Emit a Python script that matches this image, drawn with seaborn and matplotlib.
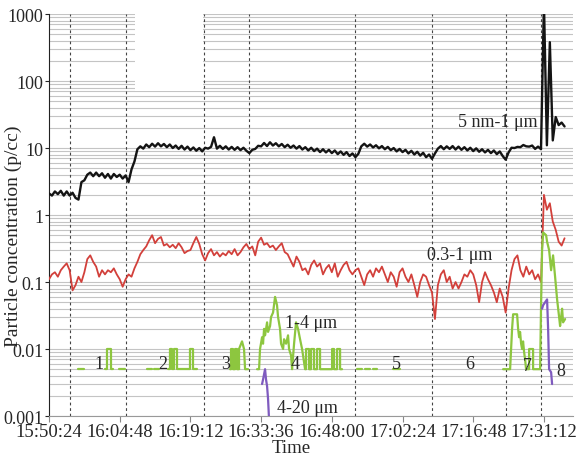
import numpy as np
import pandas as pd
import matplotlib
matplotlib.use("Agg")
import matplotlib.pyplot as plt
from matplotlib.patches import Rectangle
import seaborn as sns

# time axis: minutes after 15:50:24, instrument logs every 0.6 min
SAMPLE_MIN = 0.6
tick_min = [0, 14.4, 28.8, 43.2, 57.6, 72.0, 86.4, 100.8]
tick_labels = ["15:50:24", "16:04:48", "16:19:12", "16:33:36",
               "16:48:00", "17:02:24", "17:16:48", "17:31:12"]
y_ticks = [0.001, 0.01, 0.1, 1, 10, 100, 1000]
y_labels = ["0.001", "0.01", "0.1", "1", "10", "100", "1000"]

# segment boundaries (minutes) and segment numbers
boundaries = [4.28, 15.68, 31.57, 40.74, 62.33, 78.02, 93.09, 100.22]
seg_names = ["1", "2", "3", "4", "5", "6", "7", "8"]
seg_x = [10.19, 23.22, 36.05, 50.11, 70.68, 85.76, 97.37, 104.29]
seg_y = [0.006, 0.006, 0.006, 0.006, 0.006, 0.006, 0.0056, 0.0047]

# 5 nm-1 um (p/cc)
black_v = [
    2.1, 1.95, 2.25, 2.05, 2.3, 1.95, 2.25, 1.95, 2.15, 1.8,
    1.7, 3.1, 3.3, 4.0, 4.3, 3.8, 4.3, 3.8, 4.2, 3.6,
    4.1, 3.5, 4.1, 3.7, 4.0, 3.5, 3.9, 3.1, 4.8, 6.3,
    9.6, 10.6, 9.8, 11.3, 10.3, 11.6, 10.5, 11.8, 10.6, 11.5,
    10.3, 11.3, 10.0, 10.9, 9.7, 10.8, 9.5, 10.5, 9.3, 10.2,
    9.1, 10.0, 8.9, 10.1, 9.8, 10.4, 14.5, 9.8, 10.8, 9.7,
    10.6, 9.5, 10.4, 9.4, 10.3, 9.3, 10.1, 9.1, 8.4, 9.4,
    9.7, 10.8, 10.6, 11.9, 10.7, 12.2, 10.9, 11.8, 10.6, 11.5,
    10.3, 11.2, 10.1, 10.9, 9.8, 10.7, 9.5, 10.3, 9.2, 10.1,
    9.0, 9.8, 8.7, 9.6, 8.6, 9.4, 8.4, 9.2, 8.1, 8.9,
    7.9, 8.7, 7.6, 8.3, 7.3, 8.2, 10.6, 11.6, 10.5, 11.3,
    10.2, 11.0, 9.9, 10.7, 9.6, 10.4, 9.3, 10.0, 8.9, 9.7,
    8.7, 9.4, 8.3, 9.1, 8.0, 8.8, 7.7, 8.5, 7.3, 8.0,
    6.9, 8.3, 9.8, 10.7, 9.6, 10.6, 9.7, 10.7, 9.5, 10.5,
    9.4, 10.3, 9.2, 10.1, 9.0, 9.9, 8.8, 9.6, 8.6, 9.4,
    8.4, 9.2, 8.1, 8.9, 7.6, 6.7, 8.6, 10.1, 10.0, 10.4,
    10.3, 11.1, 10.6, 10.5, 10.9, 9.7, 10.5, 9.6, 1500, 11,
    380, 13, 29, 22, 24, 21]

# 0.3-1 um (p/cc)
red_v = [
    0.11, 0.13, 0.14, 0.12, 0.15, 0.17, 0.19, 0.15, 0.075, 0.09,
    0.12, 0.10, 0.14, 0.22, 0.25, 0.20, 0.17, 0.12, 0.15, 0.13,
    0.15, 0.14, 0.16, 0.13, 0.11, 0.085, 0.11, 0.13, 0.12, 0.16,
    0.20, 0.26, 0.30, 0.34, 0.42, 0.50, 0.38, 0.44, 0.47, 0.35,
    0.37, 0.33, 0.36, 0.32, 0.38, 0.33, 0.27, 0.29, 0.30, 0.38,
    0.47, 0.37, 0.26, 0.21, 0.27, 0.31, 0.25, 0.28, 0.24, 0.27,
    0.25, 0.29, 0.26, 0.31, 0.25, 0.28, 0.33, 0.37, 0.31, 0.34,
    0.25, 0.40, 0.46, 0.36, 0.38, 0.33, 0.35, 0.30, 0.34, 0.38,
    0.28, 0.26, 0.21, 0.17, 0.24, 0.20, 0.15, 0.16, 0.13, 0.18,
    0.21, 0.17, 0.19, 0.13, 0.16, 0.18, 0.14, 0.19, 0.12, 0.15,
    0.18, 0.20, 0.15, 0.13, 0.15, 0.16, 0.12, 0.09, 0.13, 0.15,
    0.12, 0.16, 0.14, 0.17, 0.13, 0.10, 0.14, 0.12, 0.085, 0.14,
    0.16, 0.12, 0.10, 0.13, 0.09, 0.06, 0.10, 0.13, 0.12, 0.09,
    0.07, 0.028, 0.09, 0.13, 0.15, 0.10, 0.12, 0.08, 0.10, 0.08,
    0.10, 0.13, 0.12, 0.15, 0.13, 0.09, 0.05, 0.10, 0.14, 0.11,
    0.09, 0.07, 0.05, 0.08, 0.06, 0.035, 0.08, 0.15, 0.22, 0.25,
    0.15, 0.12, 0.17, 0.13, 0.15, 0.11, 0.13, 0.10, 2.0, 1.2,
    1.5, 0.8, 0.6, 0.4, 0.35, 0.45]

nan = np.nan
# 1-4 um, only above detection limit (nan = gap)
green_t = [5.91, 7.13, nan,
           11.41, 11.81, 11.81, 12.63, 12.63, 13.04, nan,
           14.26, 15.48, nan,
           19.96, 20.98, nan, 21.39, 22.41, nan,
           24.24, 24.65, 24.65, 25.06, 25.06, 25.46, 25.46, 26.07, 26.07,
           28.72, 28.72, 29.33, 29.33, 30.15, nan,
           36.87, 37.07, 37.07, 37.48, 37.48, 37.89, 37.89, 38.30, 38.30,
           38.70, 38.70, 39.31, 39.72, 39.93, 40.54, nan,
           42.37, 42.78, 42.98, 43.39, 43.59, 43.80, 44.00, 44.41, 44.61,
           45.02, 45.22, 45.63, 46.04, 46.44, 46.65, 47.05, 47.26, 47.67,
           47.87, 48.28, 48.68, 48.89, 49.30, 49.50, 49.91, 50.31, 50.72,
           51.13, 51.54, 51.74, 52.15, 52.35, 52.35, 52.96, 52.96, 53.37,
           53.37, 53.98, 53.98, 54.59, 54.59, 55.20, 55.20, 57.65, 57.65,
           58.05, 58.05, 58.67, 58.67, 59.28, 59.28, 59.68, nan,
           62.74, 63.76, nan, 64.37, 65.39, nan, 66.00, 66.81, nan,
           70.07, 71.50, nan,
           92.48, 93.91, 94.31, 94.52, 95.33, 95.54, 95.74, 95.94, 96.15,
           96.35, 96.55, 96.76, 96.96, 97.16, 97.78, 97.78, 98.59, 98.59,
           100.02, 100.22, 100.42, 100.63, 101.24, 101.44, 101.85, 102.26,
           102.66, 103.07, 103.48, 103.89, 104.09, 104.30, 104.50, 104.70,
           105.11]
green_v = [.005, .005, nan,
           .005, .005, .01, .01, .005, .005, nan,
           .005, .005, nan,
           .005, .005, nan, .005, .005, nan,
           .005, .005, .01, .01, .005, .005, .01, .01, .005,
           .005, .01, .01, .005, .005, nan,
           .005, .005, .01, .01, .005, .005, .01, .01, .005,
           .005, .01, .013, .01, .005, .005, nan,
           .005, .005, .01, .015, .012, .02, .016, .025, .018,
           .022, .03, .035, .06, .045, .03, .02, .012, .01,
           .014, .012, .016, .01, .008, .005, .012, .025, .02,
           .014, .01, .008, .005, .005, .01, .01, .005, .005,
           .01, .01, .005, .005, .01, .01, .005, .005, .01,
           .01, .005, .005, .01, .01, .005, .005, nan,
           .005, .005, nan, .005, .005, nan, .005, .005, nan,
           .005, .005, nan,
           .005, .005, .02, .033, .033, .02, .015, .018, .012,
           .01, .013, .009, .007, .005, .005, .01, .01, .005,
           .005, .05, .3, .55, .5, .4, .3, .15,
           .25, .12, .055, .03, .022, .03, .04, .025,
           .028]

# 4-20 um
purple_t = [43.39, 43.59, 44.00, 44.20, 44.41, 44.61, 44.81, nan,
            100.42, 100.63, 101.44, 101.65, 101.85, 102.26, 102.46]
purple_v = [.003, .0035, .005, .0035, .0028, .0018, .0009, nan,
            .04, .045, .055, .02, .005, .0045, .003]

BLACK = "#141414"
RED = "#d2403b"
GREEN = "#8dc63f"
PURPLE = "#7f5bbf"

sns.set_style("ticks")
plt.rcParams['font.family'] = ['Liberation Serif', 'DejaVu Serif']


def gapped(t, v):
    df = pd.DataFrame({"t": t, "v": v})
    df["seg"] = df["v"].isna().cumsum()
    return df.dropna()


main = pd.DataFrame({"t": np.arange(len(black_v)) * SAMPLE_MIN,
                     "black": black_v, "red": red_v})
green = gapped(green_t, green_v)
purple = gapped(purple_t, purple_v)

fig, ax = plt.subplots(figsize=(5.87, 4.56), dpi=100)
fig.subplots_adjust(left=0.0835, right=0.976, bottom=0.0855, top=0.967)
ax.set_yscale("log")
ax.set_xlim(0, 106.7)
ax.set_ylim(0.001, 1000)

ax.set_axisbelow(True)
ax.yaxis.grid(True, which="both", color="#c4c4c4", lw=0.8)
ax.add_patch(Rectangle((17.5, 71), 13.9, 929, facecolor="white",
                       edgecolor="none", zorder=1))
for b in boundaries:
    ax.axvline(b, color="#444444", lw=0.8, ls=(0, (2.5, 2.5)), zorder=1.5)

sns.lineplot(data=main, x="t", y="black", color=BLACK, lw=1.7,
             estimator=None, sort=False, ax=ax, zorder=3)
sns.lineplot(data=main, x="t", y="red", color=RED, lw=1.3,
             estimator=None, sort=False, ax=ax, zorder=3)
sns.lineplot(data=green, x="t", y="v", units="seg", color=GREEN, lw=1.6,
             estimator=None, sort=False, ax=ax, zorder=3)
sns.lineplot(data=purple, x="t", y="v", units="seg", color=PURPLE, lw=1.6,
             estimator=None, sort=False, ax=ax, zorder=3)

for name, x, y in zip(seg_names, seg_x, seg_y):
    ax.text(x, y, name, fontsize=13, ha="center", va="center", zorder=4)
ax.text(99.6, 25.3, "5 nm-1 μm", fontsize=13, ha="right", va="center", zorder=4)
ax.text(83.7, 0.26, "0.3-1 μm", fontsize=13, ha="center", va="center", zorder=4)
ax.text(53.4, 0.0253, "1-4 μm", fontsize=13, ha="center", va="center", zorder=4)
ax.text(52.6, 0.00136, "4-20 μm", fontsize=13, ha="center", va="center", zorder=4)

ax.set_xticks(tick_min)
ax.set_xticklabels(tick_labels)
ax.set_yticks(y_ticks)
ax.set_yticklabels(y_labels)
ax.tick_params(axis="x", length=4, width=0.8, color="#888888", pad=1,
               labelsize=13.5)
ax.tick_params(axis="y", which="major", length=3, width=0.8, pad=1,
               labelsize=13)
ax.tick_params(axis="y", which="minor", length=0)

ax.set_xlabel("Time", fontsize=13.5)
ax.set_ylabel("Particle concentration (p/cc)", fontsize=14)
ax.xaxis.set_label_coords(0.462, -0.058)
ax.yaxis.set_label_coords(-0.052, 0.45)
sns.despine(ax=ax)
ax.spines["left"].set_color("#222222")
ax.spines["bottom"].set_color("#999999")

plt.savefig("out.png", dpi=100)
